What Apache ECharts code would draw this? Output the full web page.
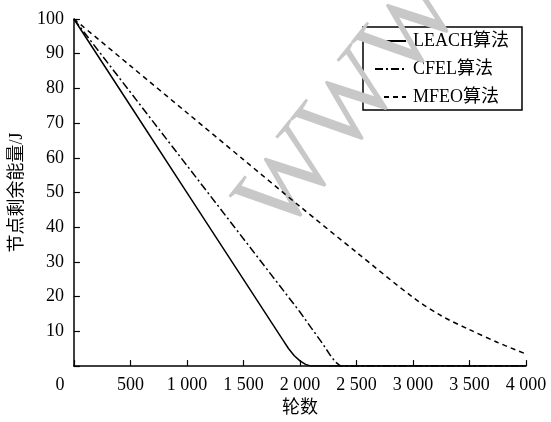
<!DOCTYPE html>
<html><head><meta charset="utf-8">
<script src="https://cdn.jsdelivr.net/npm/echarts@6/dist/echarts.min.js"></script>
<style>html,body{margin:0;padding:0;background:#fff}#c{width:551px;height:422px}</style>
</head><body><div id="c"></div>
<script>
var seriesNames = ['LEACH算法', 'CFEL算法', 'MFEO算法'];
var leachData = [[0,100],[500,75],[1000,50],[1500,25],[1850,7.5],[1900,5],[1950,3],[2000,1.5],[2050,0.5],[2100,0],[4000,0]];
var cfelData = [[0,100],[500,78.9],[1000,57.8],[1500,36.7],[2000,15.6],[2100,11],[2200,6.5],[2260,3.5],[2310,1.3],[2360,0],[4000,0]];
var mfeoData = [[0,100],[500,86.5],[1000,73],[1500,59.5],[2000,46],[2500,32.8],[3000,19.8],[3250,14.5],[3500,10.5],[3750,6.8],[4000,3.5]];
var xName = '轮数';
var yName = '节点剩余能量/J';
var watermarkText = 'WWW';

var FONT = '"Liberation Serif", "Noto Sans CJK SC", serif';
var chart = echarts.init(document.getElementById('c'));
function fmtX(v){ if(v===0) return '{z|0}'; var s=String(v); if(s.length>3) s=s.slice(0,s.length-3)+' '+s.slice(-3); return s; }
var lineW = 1.5;
chart.setOption({
  animation:false,
  backgroundColor:'#fff',
  grid:{left:73,right:25,top:19,bottom:48},
  xAxis:{type:'value',min:0,max:4000,interval:500,
    name:xName,nameLocation:'middle',nameGap:27,
    nameTextStyle:{color:'#000',fontFamily:FONT,fontSize:18},
    axisLine:{lineStyle:{color:'#000',width:1.5}},
    axisTick:{inside:true,length:6,lineStyle:{color:'#000',width:1.2}},
    axisLabel:{color:'#000',fontFamily:FONT,fontSize:18,margin:10,formatter:fmtX,
      rich:{z:{fontFamily:FONT,fontSize:18,color:'#000',padding:[0,28,0,0]}}},
    splitLine:{show:false}},
  yAxis:{type:'value',min:0,max:100,interval:10,
    name:yName,nameLocation:'middle',nameGap:41,nameRotate:90,
    nameTextStyle:{color:'#000',fontFamily:FONT,fontSize:18},
    axisLine:{show:true,lineStyle:{color:'#000',width:1.5}},
    axisTick:{show:true,inside:true,length:6,lineStyle:{color:'#000',width:1.2}},
    axisLabel:{color:'#000',fontFamily:FONT,fontSize:18,margin:10,formatter:function(v){return v===0?'':String(v);}},
    splitLine:{show:false}},
  legend:{data:seriesNames,orient:'vertical',left:363,top:27,
    padding:[5,13,4,11],itemGap:10,itemWidth:31,itemHeight:14,
    borderColor:'#000',borderWidth:1.5,z:2,
    itemStyle:{color:'transparent',borderWidth:0,opacity:0},
    textStyle:{color:'#000',fontFamily:FONT,fontSize:18,padding:[0,0,0,2]}},
  graphic:[{type:'text',x:352,y:106,rotation:0.9,z:3,silent:true,
    style:{text:watermarkText,fill:'#c8c8c8',font:'104px "Liberation Serif"',textAlign:'center',textVerticalAlign:'middle'}}],
  series:[
    {name:seriesNames[0],type:'line',data:leachData,symbol:'none',z:5,
      lineStyle:{color:'#000',width:lineW,type:'solid'},itemStyle:{color:'#000'}},
    {name:seriesNames[1],type:'line',data:cfelData,symbol:'none',z:5,
      lineStyle:{color:'#000',width:lineW,type:[8,3,2,3]},itemStyle:{color:'#000'}},
    {name:seriesNames[2],type:'line',data:mfeoData,symbol:'none',smooth:0.3,z:5,
      lineStyle:{color:'#000',width:lineW,type:[5,4]},itemStyle:{color:'#000'}}
  ]
});
</script></body></html>
